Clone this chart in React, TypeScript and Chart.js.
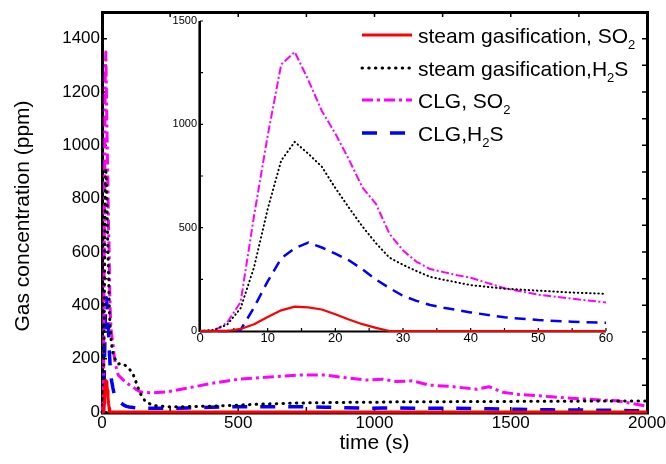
import React, { useEffect, useRef } from 'react';
import { Chart, registerables } from 'chart.js';

Chart.register(...registerables);

const FONT = '"Liberation Sans", Arial, Helvetica, sans-serif';

// time (s)
const timeS = [0, 2, 4, 6, 8, 10, 12, 14, 16, 18, 20, 22, 24, 26, 28, 30, 32, 34, 36, 38, 40, 45, 50, 55, 60,
  70, 80, 90, 100, 115, 125, 140, 160, 190, 240, 310, 400, 500, 600, 730, 820, 890, 970, 1030, 1080, 1140,
  1200, 1290, 1375, 1420, 1470, 1530, 1650, 1780, 1890, 1940, 2000];

// steam gasification, SO2
const steamSO2 = [0, 0, 0, 10, 33, 68, 100, 118, 114, 104, 81, 56, 33, 15, 0, 0, 0, 0, 0, 0, 0, 0, 0, 0, 0,
  0, 0, 0, 0, 0, 0, 0, 0, 0, 0, 0, 0, 0, 0, 0, 0, 0, 0, 0, 0, 0, 0, 0, 0, 0, 0, 0, 0, 0, 0, 0, 0];

// steam gasification, H2S
const steamH2S = [0, 5, 30, 110, 310, 590, 825, 915, 858, 795, 692, 597, 506, 425, 355, 320, 290, 262, 248, 235, 222, 205, 195, 186, 180,
  182, 178, 172, 162, 139, 112, 70, 38, 24, 20, 20, 22, 26, 30, 34, 35, 36, 37, 37, 38, 38,
  38, 39, 39, 39, 39, 40, 40, 41, 41, 41, 41];

// CLG, SO2
const clgSO2 = [0, 0, 40, 140, 560, 945, 1290, 1350, 1215, 1065, 955, 830, 695, 615, 470, 390, 335, 300, 285, 270, 258, 207, 176, 156, 138,
  128, 118, 110, 102, 93, 85, 76, 73, 72, 76, 89, 107, 123, 130, 139, 139, 129, 120, 123, 114, 117,
  101, 95, 85, 95, 74, 66, 57, 48, 42, 33, 22];

// CLG, H2S
const clgH2S = [0, 0, 0, 5, 115, 240, 352, 400, 428, 404, 374, 342, 299, 249, 208, 170, 146, 126, 113, 102, 90, 66, 53, 45, 40,
  33, 26, 21, 19, 17, 16, 15, 14, 14, 14, 15, 18, 20, 20, 20, 18, 16, 14, 15, 15, 14,
  14, 14, 13, 12, 11, 10, 8, 7, 6, 5, 5];

const legendLabels = ['steam gasification, SO_2', 'steam gasification,H_2S', 'CLG, SO_2', 'CLG,H_2S'];
const seriesValues = [steamSO2, steamH2S, clgSO2, clgH2S];
const seriesColors = ['#ff0000', '#000000', '#ff00ff', '#0000ff'];

const mainYTickLabels = [0, 200, 400, 600, 800, 1000, 1200, 1400];
const mainYTickMarks = [0, 100, 200, 300, 400, 500, 600, 700, 800, 900, 1000, 1100, 1200, 1300, 1400, 1500];
const mainXTickMarks = [0, 250, 500, 750, 1000, 1250, 1500, 1750, 2000];
const insetYTickMarks = [0, 250, 500, 750, 1000, 1250, 1500];
const insetXTickMarks = [0, 5, 10, 15, 20, 25, 30, 35, 40, 45, 50, 55, 60];
const INSET_MAX_T = 60;

const mainStyles = [
  { w: 3, dash: [] as number[], cap: 'butt' },
  { w: 3, dash: [0.5, 6.2], cap: 'round' },
  { w: 3, dash: [11, 4, 3, 4], cap: 'butt' },
  { w: 3.5, dash: [15, 13], cap: 'butt' },
];
const insetStyles = [
  { w: 2.2, dash: [] as number[], cap: 'butt' },
  { w: 2, dash: [0.5, 3.6], cap: 'round' },
  { w: 2, dash: [8, 2.5, 2, 2.5], cap: 'butt' },
  { w: 2.5, dash: [11, 7], cap: 'butt' },
];

const plainLabel = (v: any) => String(v);

function drawRich(ctx: CanvasRenderingContext2D, text: string, x: number, base: number, size: number) {
  const parts = text.split('_');
  let cx = x;
  ctx.font = `${size}px ${FONT}`;
  ctx.fillText(parts[0], cx, base);
  cx += ctx.measureText(parts[0]).width;
  for (let i = 1; i < parts.length; i++) {
    const sub = parts[i].charAt(0);
    const rest = parts[i].slice(1);
    const subSize = Math.round(size * 0.64);
    ctx.font = `${subSize}px ${FONT}`;
    ctx.fillText(sub, cx, base + 6);
    cx += ctx.measureText(sub).width;
    ctx.font = `${size}px ${FONT}`;
    ctx.fillText(rest, cx, base);
    cx += ctx.measureText(rest).width;
  }
}

const mainDecor = {
  id: 'mainDecor',
  beforeDatasetsDraw(chart: any) {
    const { ctx, chartArea: a, scales } = chart;
    const x = scales.x;
    const y = scales.y;
    ctx.save();
    ctx.strokeStyle = '#000';
    ctx.lineWidth = 3;
    ctx.strokeRect(a.left + 0.5, a.top + 0.5, a.right - a.left, a.bottom - a.top + 0.5);
    ctx.lineWidth = 1.5;
    ctx.beginPath();
    for (const v of mainYTickMarks) {
      const py = y.getPixelForValue(v);
      ctx.moveTo(a.left, py); ctx.lineTo(a.left + 5, py);
      ctx.moveTo(a.right, py); ctx.lineTo(a.right - 5, py);
    }
    for (const v of mainXTickMarks) {
      const px = x.getPixelForValue(v);
      ctx.moveTo(px, a.bottom); ctx.lineTo(px, a.bottom - 5);
      ctx.moveTo(px, a.top); ctx.lineTo(px, a.top + 5);
    }
    ctx.stroke();
    ctx.fillStyle = '#000';
    ctx.font = `21px ${FONT}`;
    ctx.textAlign = 'center';
    ctx.textBaseline = 'middle';
    ctx.translate(23, 216);
    ctx.rotate(-Math.PI / 2);
    ctx.fillText('Gas concentration (ppm)', 0, 0);
    ctx.restore();
  },
};

const insetDecor = {
  id: 'insetDecor',
  beforeDatasetsDraw(chart: any) {
    const { ctx, chartArea: a, scales } = chart;
    const x = scales.x;
    const y = scales.y;
    ctx.save();
    ctx.strokeStyle = '#000';
    ctx.lineWidth = 2.6;
    ctx.beginPath();
    ctx.moveTo(a.left - 0.3, a.top);
    ctx.lineTo(a.left - 0.3, a.bottom + 1);
    ctx.stroke();
    ctx.lineWidth = 2;
    ctx.beginPath();
    ctx.moveTo(a.left, a.bottom + 0.5);
    ctx.lineTo(a.right, a.bottom + 0.5);
    ctx.stroke();
    ctx.lineWidth = 1.2;
    ctx.beginPath();
    for (const v of insetYTickMarks) {
      const py = y.getPixelForValue(v);
      ctx.moveTo(a.left, py); ctx.lineTo(a.left + 3, py);
    }
    for (const v of insetXTickMarks) {
      const px = x.getPixelForValue(v);
      ctx.moveTo(px, a.bottom); ctx.lineTo(px, a.bottom - 3);
    }
    ctx.stroke();
    ctx.restore();
  },
  afterDraw(chart: any) {
    const { ctx } = chart;
    const rows = [35, 68, 100, 133];
    ctx.save();
    rows.forEach((ry, i) => {
      const st = mainStyles[i];
      ctx.strokeStyle = seriesColors[i];
      ctx.lineWidth = st.w;
      ctx.lineCap = st.cap as CanvasLineCap;
      ctx.setLineDash(st.dash);
      ctx.beginPath();
      ctx.moveTo(362, ry);
      ctx.lineTo(412, ry);
      ctx.stroke();
      ctx.setLineDash([]);
      ctx.fillStyle = '#000';
      ctx.textAlign = 'left';
      ctx.textBaseline = 'alphabetic';
      drawRich(ctx, legendLabels[i], 418, ry + 7.5, 21);
    });
    ctx.restore();
  },
};

function makeDatasets(maxT: number, styles: typeof mainStyles) {
  return seriesValues.map((vals, i) => ({
    label: legendLabels[i],
    data: timeS.map((t, j) => ({ x: t, y: vals[j] })).filter((p) => p.x <= maxT),
    borderColor: seriesColors[i],
    backgroundColor: seriesColors[i],
    borderWidth: styles[i].w,
    borderDash: styles[i].dash,
    borderCapStyle: styles[i].cap,
    borderJoinStyle: 'round',
    pointRadius: 0,
    fill: false,
    tension: 0,
    clip: false,
  }));
}

export default function App() {
  const mainRef = useRef<HTMLCanvasElement>(null);
  const insetRef = useRef<HTMLCanvasElement>(null);

  useEffect(() => {
    const main = new Chart(mainRef.current as HTMLCanvasElement, {
      type: 'line',
      data: { datasets: makeDatasets(2000, mainStyles) as any },
      options: {
        responsive: false,
        animation: false,
        devicePixelRatio: 1,
        events: [],
        layout: { padding: { left: 0, top: 12, right: 19, bottom: 0 } },
        plugins: { legend: { display: false }, tooltip: { enabled: false } },
        scales: {
          x: {
            type: 'linear', min: 0, max: 2000,
            ticks: { stepSize: 500, color: '#000', font: { family: FONT, size: 17 }, padding: 1, maxRotation: 0, autoSkip: false, callback: plainLabel },
            grid: { display: false, drawTicks: false },
            border: { display: false },
            title: { display: true, text: 'time (s)', color: '#000', font: { family: FONT, size: 21 }, padding: { top: 0, bottom: 8 } },
            afterFit: (s: any) => { s.height = 52; s.paddingLeft = 0; s.paddingRight = 0; },
          },
          y: {
            type: 'linear', min: 0, max: 1500,
            afterBuildTicks: (s: any) => { s.ticks = mainYTickLabels.map((v) => ({ value: v })); },
            ticks: { color: '#000', font: { family: FONT, size: 17 }, padding: 2, callback: plainLabel },
            grid: { display: false, drawTicks: false },
            border: { display: false },
            afterFit: (s: any) => { s.width = 102; s.paddingTop = 0; s.paddingBottom = 0; },
          },
        },
      } as any,
      plugins: [mainDecor],
    });

    const inset = new Chart(insetRef.current as HTMLCanvasElement, {
      type: 'line',
      data: { datasets: makeDatasets(INSET_MAX_T, insetStyles) as any },
      options: {
        responsive: false,
        animation: false,
        devicePixelRatio: 1,
        events: [],
        layout: { padding: { left: 140, top: 21, right: 60, bottom: 109 } },
        plugins: { legend: { display: false }, tooltip: { enabled: false } },
        scales: {
          x: {
            type: 'linear', min: 0, max: INSET_MAX_T,
            ticks: { stepSize: 10, color: '#000', font: { family: FONT, size: 13 }, padding: 0, maxRotation: 0, autoSkip: false, callback: plainLabel },
            grid: { display: false, drawTicks: false },
            border: { display: false },
            afterFit: (s: any) => { s.height = 24; s.paddingLeft = 0; s.paddingRight = 0; },
          },
          y: {
            type: 'linear', min: 0, max: 1500,
            ticks: { stepSize: 500, color: '#000', font: { family: FONT, size: 11 }, padding: 3, callback: plainLabel },
            grid: { display: false, drawTicks: false },
            border: { display: false },
            afterFit: (s: any) => { s.width = 60; s.paddingTop = 0; s.paddingBottom = 0; },
          },
        },
      } as any,
      plugins: [insetDecor],
    });

    return () => { main.destroy(); inset.destroy(); };
  }, []);

  return (
    <div style={{ position: 'fixed', left: 0, top: 0, width: 666, height: 464, background: '#fff' }}>
      <canvas ref={mainRef} width={666} height={464} style={{ position: 'absolute', left: 0, top: 0 }} />
      <canvas ref={insetRef} width={666} height={464} style={{ position: 'absolute', left: 0, top: 0 }} />
    </div>
  );
}
